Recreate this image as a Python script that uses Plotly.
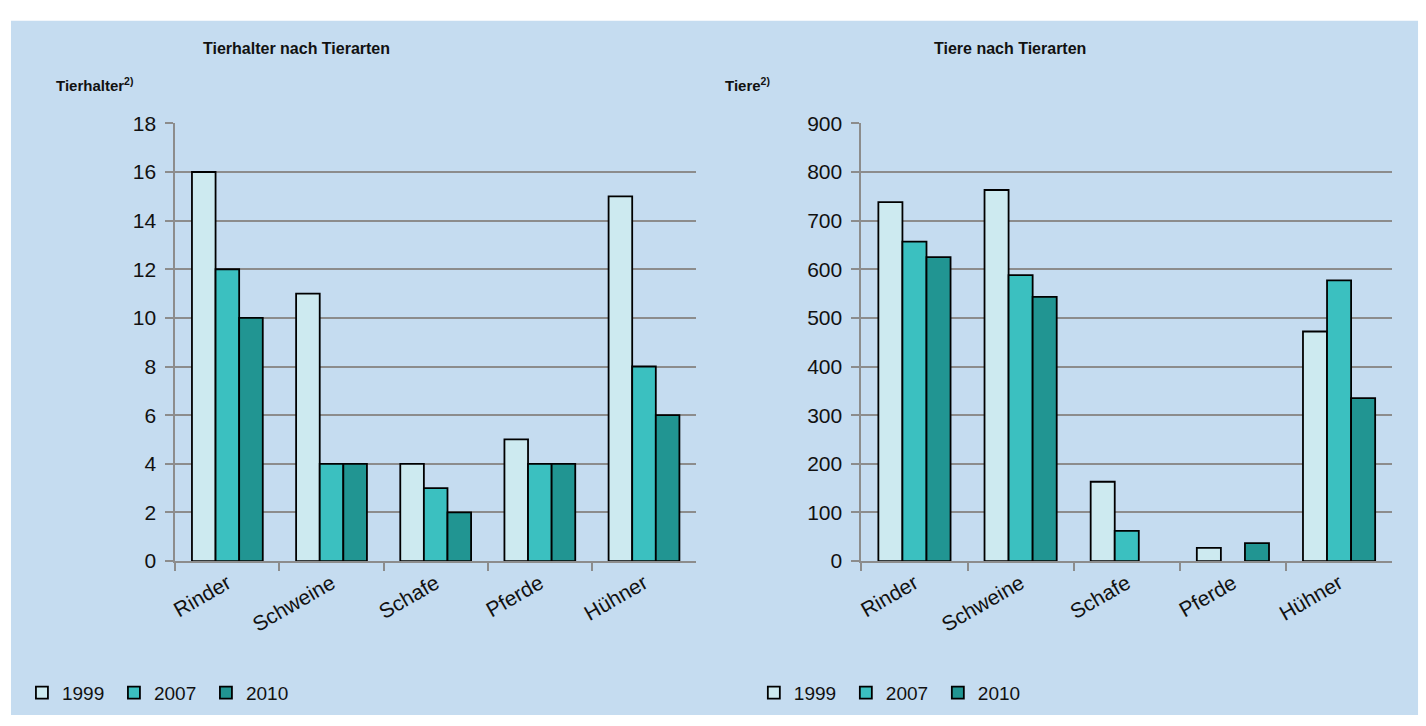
import plotly.graph_objects as go

categories = ["Rinder", "Schweine", "Schafe", "Pferde", "Hühner"]
years = ["1999", "2007", "2010"]

halter_1999 = [16, 11, 4, 5, 15]
halter_2007 = [12, 4, 3, 4, 8]
halter_2010 = [10, 4, 2, 4, 6]

tiere_1999 = [738, 763, 163, 27, 472]
tiere_2007 = [657, 588, 62, None, 577]
tiere_2010 = [625, 543, None, 37, 335]

left_ticks = list(range(0, 19, 2))
right_ticks = list(range(0, 901, 100))

colors = ["#CDEAF0", "#3BC0C0", "#219592"]
W, H = 1426, 726
FONT = "Liberation Sans Narrow, Arial Narrow, Liberation Sans, Arial, sans-serif"
FONTB = "Liberation Sans, Arial, sans-serif"

def px(x):
    return x / W

def py(y):
    return 1 - y / H

fig = go.Figure()

for yr, vals, c in zip(years, [halter_1999, halter_2007, halter_2010], colors):
    fig.add_trace(go.Bar(x=categories, y=vals, name=yr, marker=dict(color=c, line=dict(color="#000000", width=1.8)),
                         xaxis="x", yaxis="y", legend="legend"))
for yr, vals, c in zip(years, [tiere_1999, tiere_2007, tiere_2010], colors):
    fig.add_trace(go.Bar(x=categories, y=vals, name=yr, marker=dict(color=c, line=dict(color="#000000", width=1.8)),
                         xaxis="x2", yaxis="y2", legend="legend2"))

axis_line = dict(showline=True, linecolor="#8C8C8C", linewidth=2, ticks="outside", ticklen=8,
                 tickcolor="#8C8C8C", tickwidth=2)
ytick_font = dict(family=FONT, size=21, color="#111111")
xtick_font = dict(family=FONT, size=21, color="#111111")
legend_font = dict(family=FONT, size=19, color="#111111")

fig.update_layout(
    width=W, height=H,
    margin=dict(l=0, r=0, t=0, b=0),
    paper_bgcolor="#FFFFFF",
    plot_bgcolor="#FFFFFF",
    barmode="group",
    bargap=0.32,
    bargroupgap=0,
    showlegend=True,
    xaxis=dict(domain=[px(170), px(693)], anchor="y", tickangle=-30, tickson="boundaries",
               tickfont=xtick_font, **axis_line),
    yaxis=dict(domain=[py(567), py(115)], anchor="x", range=[0, 18], tickvals=left_ticks,
               showgrid=True, gridcolor="#8C8C8C", gridwidth=1.5, zeroline=False, ticklabelstandoff=5,
               tickfont=ytick_font, **axis_line),
    xaxis2=dict(domain=[px(859), px(1392)], anchor="y2", tickangle=-30, tickson="boundaries",
                tickfont=xtick_font, **axis_line),
    yaxis2=dict(domain=[py(567), py(115)], anchor="x2", range=[0, 900], tickvals=right_ticks,
                showgrid=True, gridcolor="#8C8C8C", gridwidth=1.5, zeroline=False, ticklabelstandoff=5,
                tickfont=ytick_font, **axis_line),
    legend=dict(orientation="h", x=px(16), y=py(703), xanchor="left", yanchor="middle",
                bgcolor="rgba(0,0,0,0)", font=legend_font,
                entrywidth=47, entrywidthmode="pixels", tracegroupgap=0),
    legend2=dict(orientation="h", x=px(751), y=py(703), xanchor="left", yanchor="middle",
                 bgcolor="rgba(0,0,0,0)", font=legend_font,
                 entrywidth=47, entrywidthmode="pixels", tracegroupgap=0),
    shapes=[dict(type="rect", xref="paper", yref="paper", x0=px(5), x1=px(1418), y0=0, y1=py(9),
                 fillcolor="#C5DCF0", line=dict(width=0), layer="below")],
    annotations=[
        dict(text="<b>Tierhalter nach Tierarten</b>", x=px(292), y=py(38), xref="paper", yref="paper",
             showarrow=False, xanchor="center", yanchor="middle", font=dict(family=FONTB, size=16, color="#111111")),
        dict(text="<b>Tierhalter<sup>2)</sup></b>", x=px(48), y=py(75), xref="paper", yref="paper",
             showarrow=False, xanchor="left", yanchor="middle", font=dict(family=FONTB, size=15, color="#111111")),
        dict(text="<b>Tiere nach Tierarten</b>", x=px(1008), y=py(38), xref="paper", yref="paper",
             showarrow=False, xanchor="center", yanchor="middle", font=dict(family=FONTB, size=16, color="#111111")),
        dict(text="<b>Tiere<sup>2)</sup></b>", x=px(720), y=py(75), xref="paper", yref="paper",
             showarrow=False, xanchor="left", yanchor="middle", font=dict(family=FONTB, size=15, color="#111111")),
    ],
)

fig.write_html("out.html", config={"displayModeBar": False},
               post_script="document.body.style.margin='0';document.body.style.overflow='hidden';")
